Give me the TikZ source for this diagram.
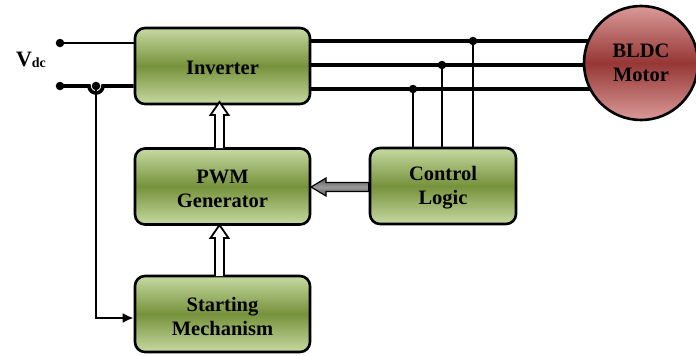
\documentclass[tikz,border=0pt]{standalone}
\usepackage{fontspec}
\setmainfont{Liberation Serif}
\usetikzlibrary{arrows.meta,backgrounds}
\definecolor{gLight}{HTML}{C6D9A1}
\definecolor{gDark}{HTML}{76923C}
\definecolor{rLight}{HTML}{DA9A98}
\definecolor{rDark}{HTML}{953735}
\tikzset{
  blk/.style={draw=black, line width=2.6pt, rounded corners=10pt,
    top color=gLight, bottom color=gLight, middle color=gDark,
    minimum width=175pt, minimum height=76pt, inner sep=0pt,
    label={[txt]center:#1}},
  txt/.style={align=center, font=\fontsize{20.5}{24}\selectfont\bfseries, yshift=-2pt, inner sep=0pt},
  mot/.style={circle, draw=black, line width=2.6pt, minimum size=114pt, inner sep=0pt,
    top color=rLight, bottom color=rLight, middle color=rDark,
    align=center, font=\fontsize{20.5}{24}\selectfont\bfseries},
  wire/.style={line width=3.6pt},
  thinwire/.style={line width=2.6pt},
  jdot/.style={circle, fill=black, inner sep=0pt, minimum size=8.5pt},
  hollow/.style={draw=black, fill=white, line width=1.8pt, line join=miter},
}
\begin{document}
\begin{tikzpicture}[x=1pt,y=-1pt]
\useasboundingbox (0,0) rectangle (696,356);
% blocks
\node[blk={Inverter}] (inv) at (222.5,66) {};
\node[blk={PWM\\Generator}] (pwm) at (222.5,186.5) {};
\node[blk={Starting\\Mechanism}] (start) at (222.5,314) {};
\node[blk={Control\\Logic}, minimum width=146pt] (ctl) at (443,186) {};
\node[mot] (motor) at (641,63) {BLDC\\Motor};
% coordinates
\coordinate (l1) at (0,41);
\coordinate (l2) at (0,65);
\coordinate (l3) at (0,89);
\node[jdot] (d1) at (473,41) {};
\node[jdot] (d2) at (442,65) {};
\node[jdot] (d3) at (413,89) {};
\node[jdot] (s1) at (60,43) {};
\node[jdot] (s2) at (60,86) {};
\node[jdot] (hj) at (96,86) {};
\node[font=\fontsize{22}{24}\selectfont\bfseries] (vdc) at (31,60) {V\raisebox{-1.5pt}{\fontsize{14}{16}\selectfont dc}};
\begin{scope}[on background layer]
  \draw[wire] (inv.east |- l1) -- (motor.center |- l1);
  \draw[wire] (inv.east |- l2) -- (motor.center |- l2);
  \draw[wire] (inv.east |- l3) -- (motor.center |- l3);
  \draw[thinwire] (d1.center) -- (d1.center |- ctl.north);
  \draw[thinwire] (d2.center) -- (d2.center |- ctl.north);
  \draw[thinwire] (d3.center) -- (d3.center |- ctl.north);
  \draw[thinwire] (s1.center) -- (s1.center -| inv.west);
  \draw[wire] (s2.center) -- (89,86) arc (180:0:7) -- (s2.center -| inv.west);
  \draw[thinwire, -{Latex[length=11pt,width=10pt]}] (hj.center) -- (96,318) -- (start.west |- 0,318);
\end{scope}
% hollow double arrows
\draw[hollow] (215,148) -- (215,115) -- (210.5,115) -- (219.5,102) -- (228.5,115) -- (224,115) -- (224,148);
\draw[hollow] (215,276) -- (215,238) -- (210.5,238) -- (219.5,225) -- (228.5,238) -- (224,238) -- (224,276);
% gray arrow
\draw[draw=black, line width=1.2pt, top color=black!65, bottom color=black!65, middle color=black!40, line join=miter]
  (ctl.west |- 0,182.5) -- (326,182.5) -- (326,178) -- (311,187) -- (326,196) -- (326,191.5) -- (ctl.west |- 0,191.5) -- cycle;
\end{tikzpicture}
\end{document}
